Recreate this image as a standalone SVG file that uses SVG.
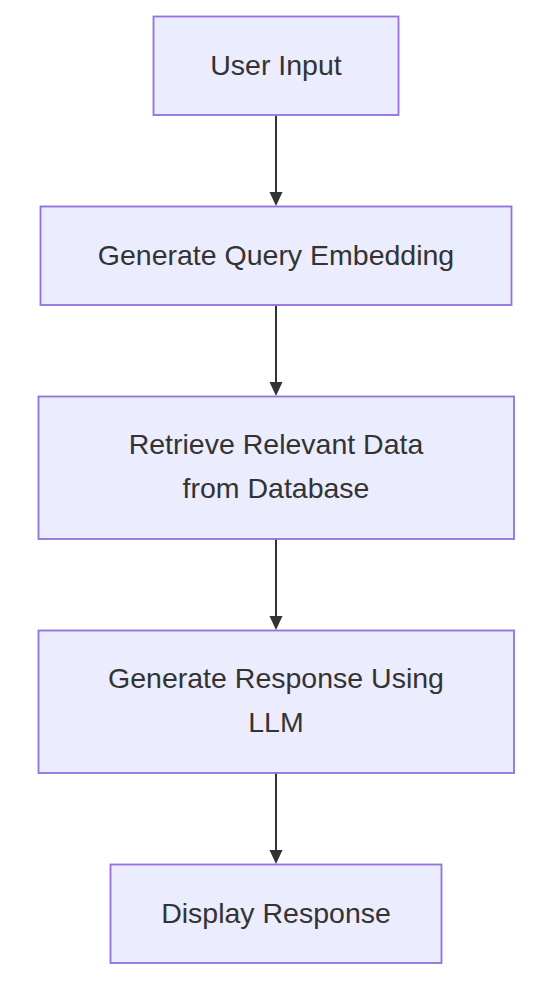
<svg xmlns="http://www.w3.org/2000/svg" width="540" height="982" viewBox="0 0 540 982">
<style>
.box{fill:#ECECFF;stroke:#9370DB;stroke-width:1.8}
.lbl{font-family:"Liberation Sans",Arial,sans-serif;font-size:28.5px;fill:#333333;text-anchor:middle}
.edge{stroke:#333333;stroke-width:2;fill:none}
</style>
<rect width="540" height="982" fill="#FFFFFF"/>
<g id="connectors">
<path class="edge" d="M276,115.5 V193"/>
<polygon points="269.5,192 282.5,192 276,206" fill="#333333"/>
<path class="edge" d="M276,305 V383"/>
<polygon points="269.5,382 282.5,382 276,396" fill="#333333"/>
<path class="edge" d="M276,539 V617"/>
<polygon points="269.5,616 282.5,616 276,630" fill="#333333"/>
<path class="edge" d="M276,773 V851"/>
<polygon points="269.5,850 282.5,850 276,864" fill="#333333"/>
</g>
<g id="node-user-input">
<rect class="box" x="153.5" y="16.5" width="245" height="98.5"/>
<text class="lbl" x="276" y="75">User Input</text>
</g>
<g id="node-query-embedding">
<rect class="box" x="40.5" y="206.5" width="471" height="98.5"/>
<text class="lbl" x="276" y="265">Generate Query Embedding</text>
</g>
<g id="node-retrieve">
<rect class="box" x="38.5" y="396.5" width="475.5" height="142.5"/>
<text class="lbl" x="276" y="454">Retrieve Relevant Data</text>
<text class="lbl" x="276" y="498">from Database</text>
</g>
<g id="node-generate-response">
<rect class="box" x="38.5" y="630.5" width="475.5" height="142.5"/>
<text class="lbl" x="276" y="688">Generate Response Using</text>
<text class="lbl" x="276" y="732">LLM</text>
</g>
<g id="node-display">
<rect class="box" x="110.5" y="864.5" width="331" height="98.5"/>
<text class="lbl" x="276" y="923">Display Response</text>
</g>
</svg>
